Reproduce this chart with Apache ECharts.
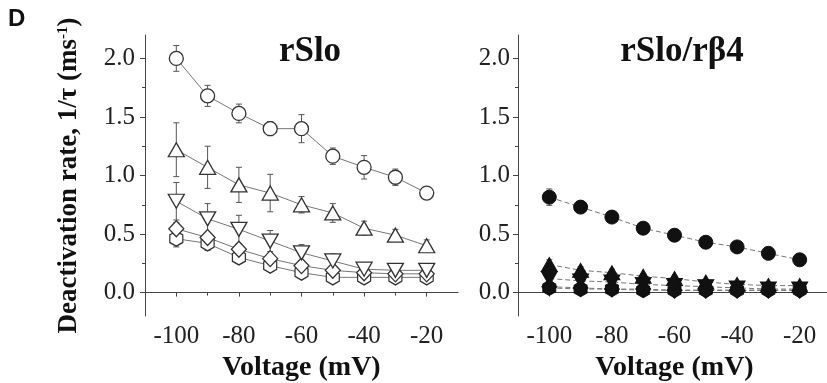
<!DOCTYPE html>
<html>
<head>
<meta charset="utf-8">
<script src="https://cdn.jsdelivr.net/npm/echarts@6/dist/echarts.min.js"></script>
<style>
  html, body { margin: 0; padding: 0; background: #fff; }
  #chart { width: 827px; height: 383px; }
</style>
</head>
<body>
<div id="chart"></div>
<script>
// voltages (mV)
const voltage = [-100, -90, -80, -70, -60, -50, -40, -30, -20];
const xTicks = [-100, -80, -60, -40, -20];
const xMinor = [-90, -70, -50, -30];
const yTicks = [0, 0.5, 1, 1.5, 2];
const yMinor = [0.25, 0.75, 1.25, 1.75];

// rSlo (open symbols)
const sloCircle = [2.0, 1.68, 1.53, 1.40, 1.40, 1.165, 1.07, 0.985, 0.85];
const sloCircleErr = [0.11, 0.09, 0.08, 0.06, 0.12, 0.07, 0.1, 0.07, 0.05];
const sloUp = [1.22, 1.07, 0.92, 0.85, 0.75, 0.68, 0.55, 0.49, 0.40];
const sloUpErr = [0.23, 0.18, 0.15, 0.16, 0.07, 0.08, 0.06, 0.05, 0.05];
const sloDown = [0.78, 0.63, 0.54, 0.44, 0.34, 0.27, 0.20, 0.19, 0.19];
const sloDownErr = [0.16, 0.13, 0.12, 0.09, 0.07, 0.06, 0.05, 0.04, 0.04];
const sloDiamond = [0.545, 0.47, 0.37, 0.29, 0.23, 0.19, 0.17, 0.16, 0.16];
const sloDiamondErr = [0.05, 0.04, 0.04, 0.04, 0.03, 0.03, 0.03, 0.03, 0.03];
const sloHex = [0.46, 0.42, 0.30, 0.23, 0.17, 0.13, 0.13, 0.13, 0.13];
const sloHexErr = [0.07, 0.06, 0.05, 0.04, 0.04, 0.04, 0.04, 0.04, 0.04];

// rSlo/rβ4 (filled symbols)
const b4Circle = [0.815, 0.73, 0.645, 0.55, 0.49, 0.43, 0.39, 0.335, 0.28];
const b4CircleErr = [0.07, 0.03, 0.03, 0.03, 0.03, 0.02, 0.02, 0.02, 0.02];
const b4Up = [0.24, 0.19, 0.17, 0.14, 0.12, 0.09, 0.07, 0.06, 0.06];
const b4UpErr = [0.04, 0.03, 0.03, 0.02, 0.02, 0.02, 0.02, 0.02, 0.02];
const b4Down = [0.12, 0.10, 0.09, 0.07, 0.06, 0.05, 0.04, 0.03, 0.03];
const b4DownErr = [0.05, 0.03, 0.02, 0.02, 0.02, 0.02, 0.02, 0.02, 0.02];
const b4Diamond = [0.05, 0.04, 0.03, 0.03, 0.02, 0.02, 0.02, 0.02, 0.02];
const b4DiamondErr = [0.02, 0.02, 0.02, 0.02, 0.02, 0.02, 0.02, 0.02, 0.02];
const b4Hex = [0.04, 0.03, 0.03, 0.02, 0.02, 0.02, 0.02, 0.02, 0.02];
const b4HexErr = [0.02, 0.02, 0.02, 0.02, 0.02, 0.02, 0.02, 0.02, 0.02];

const hexagon = 'path://M0,-1L0.866,-0.5L0.866,0.5L0,1L-0.866,0.5L-0.866,-0.5Z';
const downTri = 'path://M-1,-0.8L1,-0.8L0,0.9Z';
const serif = 'Liberation Serif';
const axisColor = '#444';

function xAxisFor(grid) {
  return [{
    type: 'value', gridIndex: grid, min: -110, max: -10, position: 'bottom',
    axisLine: { lineStyle: { color: axisColor, width: 1 } },
    axisTick: { customValues: xTicks, length: 4, lineStyle: { color: axisColor } },
    axisLabel: { customValues: xTicks, margin: 8, fontFamily: serif, fontSize: 25, color: '#222' },
    splitLine: { show: false },
    name: 'Voltage (mV)', nameLocation: 'middle', nameGap: 30,
    nameTextStyle: { fontFamily: serif, fontSize: 28, fontWeight: 'bold', color: '#111' }
  }, {
    type: 'value', gridIndex: grid, min: -110, max: -10, position: 'bottom',
    axisLine: { show: false },
    axisTick: { customValues: xMinor, length: 3, lineStyle: { color: axisColor } },
    axisLabel: { show: false }, splitLine: { show: false }
  }];
}

function yAxisFor(grid, labelMargin) {
  return [{
    type: 'value', gridIndex: grid, min: -0.2, max: 2.2, position: 'left',
    axisLine: { show: true, lineStyle: { color: axisColor, width: 1 } },
    axisTick: { show: true, customValues: yTicks, length: 5, lineStyle: { color: axisColor } },
    axisLabel: { customValues: yTicks, margin: labelMargin, fontFamily: serif, fontSize: 25, color: '#222',
      formatter: v => v.toFixed(1) },
    splitLine: { show: false }
  }, {
    type: 'value', gridIndex: grid, min: -0.2, max: 2.2, position: 'left', offset: 0,
    axisLine: { show: false },
    axisTick: { show: true, customValues: yMinor, length: 3, lineStyle: { color: axisColor } },
    axisLabel: { show: false }, splitLine: { show: false }
  }];
}

const xAxes = xAxisFor(0).concat(xAxisFor(1));
const yAxes = yAxisFor(0, 10).concat(yAxisFor(1, 8));
yAxes[0].name = 'Deactivation rate, 1/τ (ms{sup|-1})';
yAxes[0].nameLocation = 'middle';
yAxes[0].nameGap = 62;
yAxes[0].nameTextStyle = {
  fontFamily: serif, fontSize: 27, fontWeight: 'bold', color: '#111',
  rich: { sup: { fontFamily: serif, fontSize: 15, fontWeight: 'bold', color: '#111', verticalAlign: 'top', padding: [0, 0, 12, 0] } }
};

function lineSeries(axis, values, symbol, size, filled, dashed) {
  return {
    type: 'line', xAxisIndex: axis, yAxisIndex: axis, z: 3,
    data: voltage.map((v, i) => [v, values[i]]),
    symbol: symbol, symbolSize: size,
    lineStyle: { color: '#777', width: 1, type: dashed ? [5, 3] : 'solid' },
    itemStyle: filled ? { color: '#111', borderColor: '#111', borderWidth: 1 }
                      : { color: '#fff', borderColor: '#333', borderWidth: 1.3 },
    emphasis: { disabled: true }, animation: false
  };
}

function errSeries(axis, values, errs) {
  return {
    type: 'custom', xAxisIndex: axis, yAxisIndex: axis, z: 2,
    data: voltage.map((v, i) => [v, values[i], errs[i]]),
    renderItem: function (params, api) {
      const x = api.value(0), y = api.value(1), e = api.value(2);
      const top = api.coord([x, y + e]);
      const bot = api.coord([x, y - e]);
      const st = { stroke: '#555', lineWidth: 1 };
      return {
        type: 'group', children: [
          { type: 'line', shape: { x1: top[0], y1: top[1], x2: bot[0], y2: bot[1] }, style: st },
          { type: 'line', shape: { x1: top[0] - 3, y1: top[1], x2: top[0] + 3, y2: top[1] }, style: st },
          { type: 'line', shape: { x1: bot[0] - 3, y1: bot[1], x2: bot[0] + 3, y2: bot[1] }, style: st }
        ]
      };
    },
    animation: false, silent: true
  };
}

const series = [
  errSeries(0, sloCircle, sloCircleErr),
  errSeries(0, sloUp, sloUpErr),
  errSeries(0, sloDown, sloDownErr),
  errSeries(0, sloDiamond, sloDiamondErr),
  errSeries(0, sloHex, sloHexErr),
  lineSeries(0, sloHex, hexagon, [13, 15], false, false),
  lineSeries(0, sloDiamond, 'diamond', [15, 16], false, false),
  lineSeries(0, sloDown, downTri, [16, 14], false, false),
  lineSeries(0, sloUp, 'triangle', [16, 14], false, false),
  lineSeries(0, sloCircle, 'circle', 14, false, false),
  errSeries(2, b4Circle, b4CircleErr),
  errSeries(2, b4Up, b4UpErr),
  errSeries(2, b4Down, b4DownErr),
  errSeries(2, b4Diamond, b4DiamondErr),
  errSeries(2, b4Hex, b4HexErr),
  lineSeries(2, b4Hex, hexagon, [13, 15], true, true),
  lineSeries(2, b4Diamond, 'diamond', [15, 16], true, true),
  lineSeries(2, b4Down, downTri, [16, 14], true, true),
  lineSeries(2, b4Up, 'triangle', [16, 14], true, true),
  lineSeries(2, b4Circle, 'circle', 14, true, true)
];

const chart = echarts.init(document.getElementById('chart'), null, { renderer: 'canvas' });
chart.setOption({
  backgroundColor: '#fff',
  animation: false,
  grid: [
    { left: 145, top: 35, width: 313, height: 281, outerBoundsMode: 'none', containLabel: false },
    { left: 518, top: 35, width: 313, height: 281, outerBoundsMode: 'none', containLabel: false }
  ],
  xAxis: xAxes,
  yAxis: yAxes,
  graphic: [
    { type: 'text', x: 8, y: 7, style: { text: 'D', fontFamily: 'Liberation Sans', fontWeight: 'bold', fontSize: 24, fill: '#111' } },
    { type: 'text', x: 310, y: 34, style: { text: 'rSlo', textAlign: 'center', fontFamily: serif, fontWeight: 'bold', fontSize: 35, fill: '#111' } },
    { type: 'text', x: 682, y: 34, style: { text: 'rSlo/rβ4', textAlign: 'center', fontFamily: serif, fontWeight: 'bold', fontSize: 35, fill: '#111' } }
  ],
  series: series
});
</script>
</body>
</html>
